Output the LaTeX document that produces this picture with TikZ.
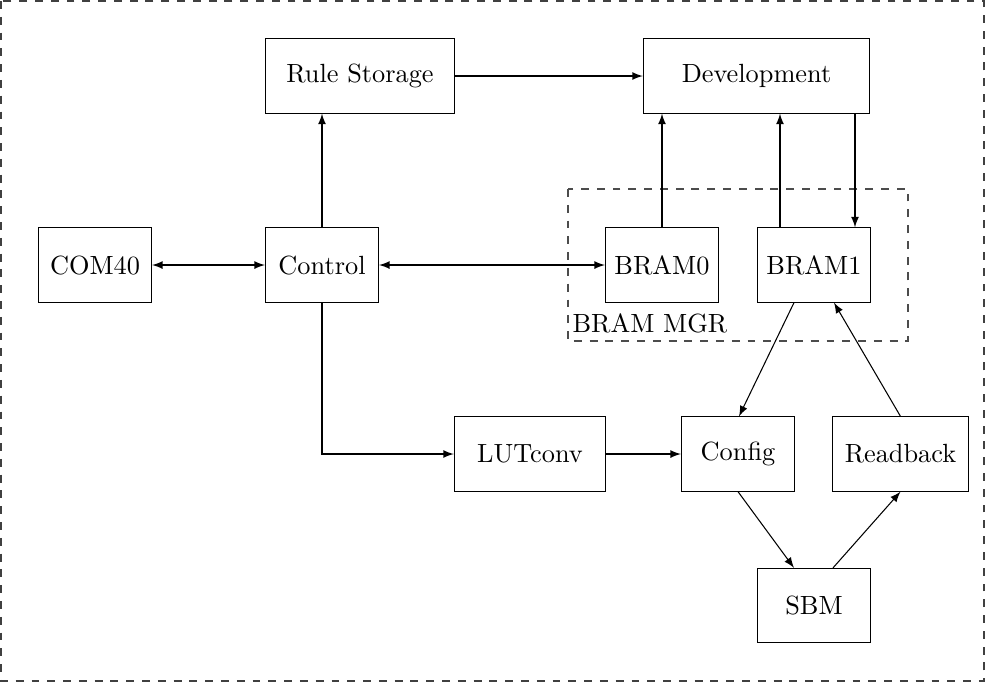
\documentclass[tikz,border=0pt]{standalone}
\usetikzlibrary{calc,arrows}
\begin{document}
\begin{tikzpicture}[x=0.38pt,y=-0.38pt,
  blk/.style={draw,rectangle,minimum height=28.2pt,minimum width=43pt,inner sep=2pt},
  conn/.style={-latex},
  bconn/.style={latex-latex},
  grp/.style={draw=black!70,dashed}]
\useasboundingbox (0,0) rectangle (985,682);
\draw[draw=black!75,dashed] (1,1) rectangle (984,681);
\draw[grp] (568,189) rectangle (908,341);
\node[anchor=south west,inner sep=0pt] (mgr) at (572,334) {BRAM MGR};

\node[blk] (com) at (95,265) {COM40};
\node[blk] (ctl) at (322,265) {Control};
\node[blk,minimum width=72pt] (rule) at (360,76) {Rule Storage};
\node[blk,minimum width=86pt] (dev) at (756.5,76) {Development};
\node[blk] (b0) at (662,265) {BRAM0};
\node[blk] (b1) at (814,265) {BRAM1};
\node[blk,minimum width=57.5pt] (lut) at (530,454) {LUTconv};
\node[blk] (cfg) at (738,454) {Config};
\node[blk,minimum width=52pt] (rb) at (900.5,454) {Readback};
\node[blk] (sbm) at (814,605.5) {SBM};

\coordinate (b1up) at ($(b1.north)+(-34,0)$);
\coordinate (b1dn) at ($(b1.north)+(41,0)$);
\coordinate (b1sl) at ($(b1.south)+(-20,0)$);
\coordinate (b1sr) at ($(b1.south)+(20,0)$);
\coordinate (cfgn) at ($(cfg.north)+(1,0)$);
\coordinate (sbml) at ($(sbm.north)+(-20,0)$);
\coordinate (sbmr) at ($(sbm.north)+(19,0)$);

\draw[bconn] (com) -- (ctl);
\draw[bconn] (ctl) -- (b0);
\draw[conn] (ctl.north) -- (ctl.north |- rule.south);
\draw[conn] (rule) -- (dev);
\draw[conn] (b0.north) -- (b0.north |- dev.south);
\draw[conn] (b1up) -- (b1up |- dev.south);
\draw[conn] (b1dn |- dev.south) -- (b1dn);
\draw[conn] (ctl.south) |- (lut.west);
\draw[conn] (lut) -- (cfg);
\draw[conn] (b1sl) -- (cfgn);
\draw[conn] (rb.north) -- (b1sr);
\draw[conn] (cfg.south) -- (sbml);
\draw[conn] (sbmr) -- (rb.south);
\end{tikzpicture}
\end{document}
